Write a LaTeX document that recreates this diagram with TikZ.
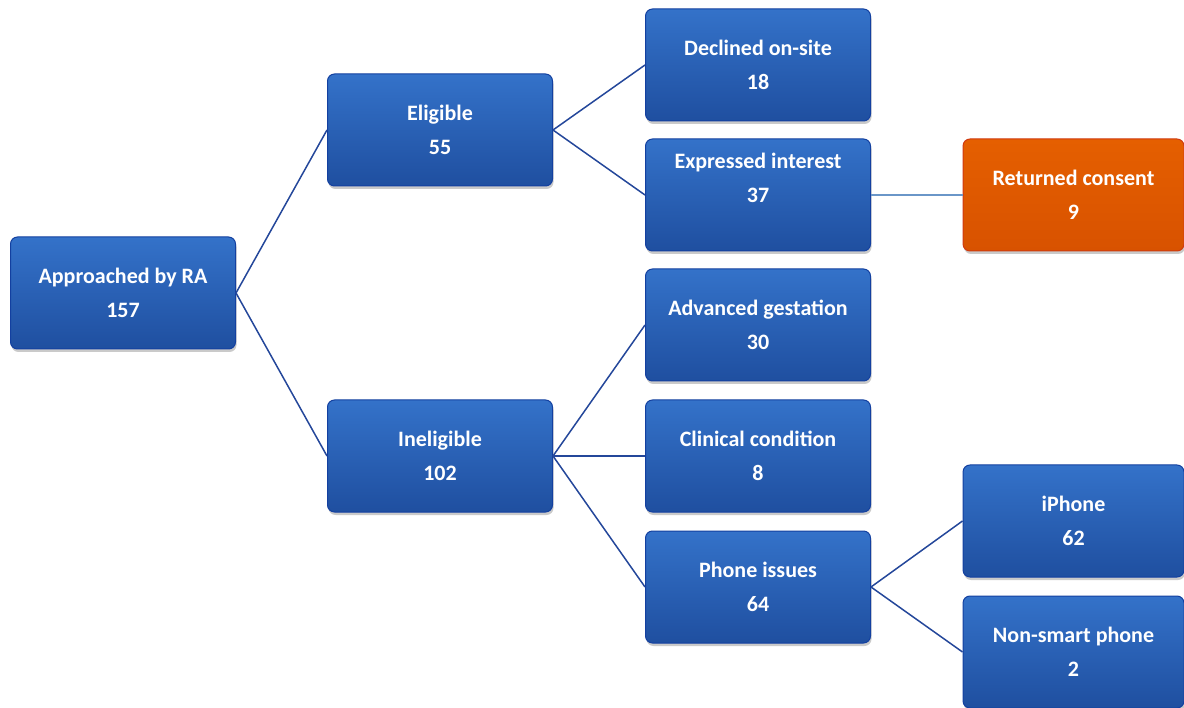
\documentclass[tikz,border=0pt]{standalone}
\usepackage{fontspec}
\setmainfont{Carlito}
\usetikzlibrary{shadows}
\definecolor{boxtop}{HTML}{3472C9}
\definecolor{boxbot}{HTML}{1F4FA0}
\definecolor{boxedge}{HTML}{1340A0}
\definecolor{orgtop}{HTML}{E55F00}
\definecolor{orgbot}{HTML}{D85200}
\definecolor{orgedge}{HTML}{D03A10}
\definecolor{linkc}{HTML}{24479A}
\definecolor{lightlink}{HTML}{6A96C8}
\begin{document}
\begin{tikzpicture}[x=1pt,y=-1pt,
  box/.style={rectangle, rounded corners=7pt, minimum width=225pt, minimum height=112pt,
    top color=boxtop, bottom color=boxbot, draw=boxedge, line width=1pt,
    text=white, font=\bfseries\fontsize{22}{34}\selectfont, align=center,
    drop shadow={shadow xshift=1pt, shadow yshift=-3pt, opacity=0.35, fill=black!60}},
  obox/.style={box, top color=orgtop, bottom color=orgbot, draw=orgedge},
  link/.style={draw=linkc, line width=1.5pt},
  lightln/.style={draw=lightlink, line width=2.5pt}]
\useasboundingbox (0,0) rectangle (1184,708);
\node[box] (ra) at (123,293) {Approached by RA\\157};
\node[box] (el) at (440,130) {Eligible\\55};
\node[box] (in) at (440,456) {Ineligible\\102};
\node[box] (dc) at (758,65) {Declined on-site\\18};
\node[box] (ex) at (758,195) {Expressed interest\\37\\\mbox{}};
\node[box] (ag) at (758,325) {Advanced gestation\\30};
\node[box] (cc) at (758,456) {Clinical condition\\8};
\node[box] (pi) at (758,587) {Phone issues\\64};
\node[obox, minimum width=221pt] (rc) at (1073.5,195) {Returned consent\\9};
\node[box, minimum width=221pt] (ip) at (1073.5,521) {iPhone\\62};
\node[box, minimum width=221pt] (ns) at (1073.5,652) {Non-smart phone\\2};
\draw[link] (ra.east) -- (el.west);
\draw[link] (ra.east) -- (in.west);
\draw[link] (el.east) -- (dc.west);
\draw[link] (el.east) -- (ex.west);
\draw[lightln] (ex.east) -- (rc.west);
\draw[link] (in.east) -- (ag.west);
\draw[link] (in.east) -- (cc.west);
\draw[link] (in.east) -- (pi.west);
\draw[link] (pi.east) -- (ip.west);
\draw[link] (pi.east) -- (ns.west);
\end{tikzpicture}
\end{document}
